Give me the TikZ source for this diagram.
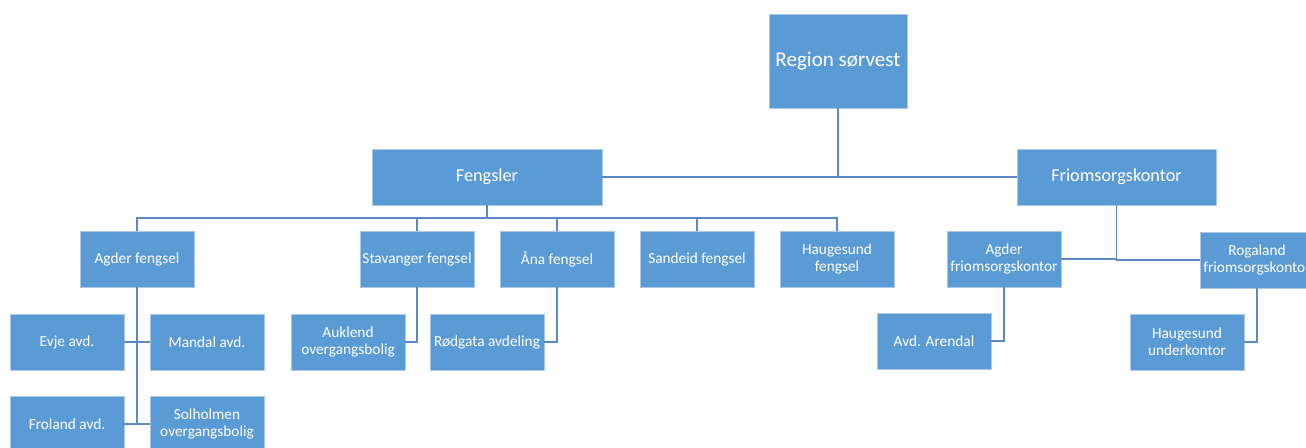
\documentclass[tikz,border=0pt]{standalone}
\usepackage{fontspec}
\setmainfont{Carlito}
\definecolor{boxblue}{HTML}{5B9BD5}
\definecolor{boxedge}{HTML}{A9C8E8}
\definecolor{lineblue}{HTML}{5A8AC6}
\begin{document}
\begin{tikzpicture}[x=0.75pt,y=-0.75pt,
  box/.style={fill=boxblue,draw=boxedge,line width=0.4pt,text=white,align=center,inner sep=1pt,
    minimum width=85.5pt,minimum height=42pt,font=\fontsize{11.5}{13}\selectfont},
  conn/.style={draw=lineblue,line width=1.1pt}]
\useasboundingbox (0,0) rectangle (1306,448);
\clip (0,0) rectangle (1306,448);
% top
\node[box,minimum width=103.5pt,minimum height=70.5pt,font=\fontsize{15.8}{18}\selectfont] (reg) at (838,61) {Region sørvest};
\node[box,minimum width=172.5pt,minimum height=42pt,font=\fontsize{13.7}{16}\selectfont] (feng) at (487,177) {Fengsler};
\node[box,minimum width=149.25pt,minimum height=42pt,font=\fontsize{13.7}{16}\selectfont] (fri) at (1116.5,177) {Friomsorgskontor};
% fengsler row
\node[box] (agf) at (137,259) {Agder fengsel};
\node[box] (stf) at (417,259) {Stavanger fengsel};
\node[box] (ana) at (557,259) {Åna fengsel};
\node[box] (sand) at (697,259) {Sandeid fengsel};
\node[box] (hgf) at (837,259) {Haugesund\\fengsel};
% agder sub
\node[box] (evje) at (67,342) {Evje avd.};
\node[box] (mand) at (207,342) {Mandal avd.};
\node[box] (fro) at (67,424) {Froland avd.};
\node[box] (sol) at (207,424) {Solholmen\\overgangsbolig};
\node[box] (auk) at (348,342) {Auklend\\overgangsbolig};
\node[box] (rod) at (487,342) {Rødgata avdeling};
% friomsorg
\node[box] (agfr) at (1004,259) {Agder\\friomsorgskontor};
\node[box] (rog) at (1257,260) {Rogaland\\friomsorgskontor};
\node[box] (are) at (934,341) {Avd. Arendal};
\node[box] (hun) at (1187,342) {Haugesund\\underkontor};
% connectors
\draw[conn] (reg.south) -- (reg.south |- feng.east);
\draw[conn] (feng.east) -- (fri.west);
\coordinate (fb) at (487,218);
\draw[conn] (feng.south) -- (fb);
\draw[conn] (agf.north) |- (fb) -| (hgf.north);
\draw[conn] (stf.north) -- (stf.north |- fb);
\draw[conn] (ana.north) -- (ana.north |- fb);
\draw[conn] (sand.north) -- (sand.north |- fb);
\draw[conn] (agf.south) -- (agf.south |- fro.east);
\draw[conn] (evje.east) -- (mand.west);
\draw[conn] (fro.east) -- (sol.west);
\draw[conn] (stf.south) |- (auk.east);
\draw[conn] (ana.south) |- (rod.east);
\draw[conn] (agfr.east) -- (fri.south |- agfr.east);
\draw[conn] (fri.south) |- (rog.west);
\draw[conn] (agfr.south) |- (are.east);
\draw[conn] (rog.south) |- (hun.east);
\end{tikzpicture}
\end{document}
